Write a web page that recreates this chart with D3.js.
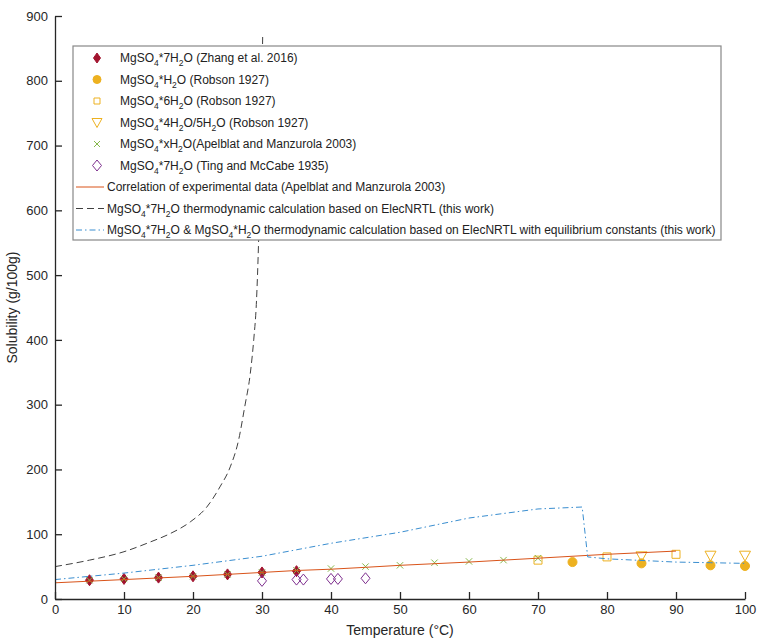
<!DOCTYPE html>
<html>
<head>
<meta charset="utf-8">
<script src="https://cdn.jsdelivr.net/npm/d3@7"></script>
<style>
  body { margin: 0; background: #fff; }
  svg { font-family: "Liberation Sans", Arial, sans-serif; }
</style>
</head>
<body>
<script>
// data
var zhangT = [5, 10, 15, 20, 25, 30, 35];
var zhangS = [29, 31, 33, 35, 38, 41, 43];

var robsonH2oT = [75, 85, 95, 100];
var robsonH2oS = [57, 55, 52, 51];

var robson6T = [70, 80, 90];
var robson6S = [60, 65, 69];

var robson45T = [85, 95, 100];
var robson45S = [66, 67, 67];

var apelT = [5, 10, 15, 20, 25, 30, 35, 40, 45, 50, 55, 60, 65, 70];
var apelS = [29, 31, 33, 35, 38, 41, 44, 47, 50, 52, 56, 58, 60, 63];

var tingT = [30, 35, 36, 40, 41, 45];
var tingS = [28, 30, 30, 31, 31, 32];

var corrT = [0, 10, 20, 30, 35, 40, 50, 60, 70, 80, 90];
var corrS = [25, 30, 35, 41, 44, 46, 52, 57, 63, 69, 74];

var elecT = [0, 5, 10, 13.8, 16.7, 19.6, 22, 23.9, 25.4, 26.6, 27.5, 28.3, 28.8, 29.2, 29.5, 29.8, 30.1];
var elecS = [50, 60, 73, 88, 101, 119, 142, 173, 204, 245, 297, 348, 400, 460, 550, 680, 870];

var eqT = [0, 10, 20, 30, 35, 40, 50, 60, 70, 76.4, 77.2, 80, 90, 95, 100];
var eqS = [30, 40, 52, 66, 76, 86, 103, 125, 139, 142, 65, 62, 57, 56, 55];

var xTicks = [0, 10, 20, 30, 40, 50, 60, 70, 80, 90, 100];
var yTicks = [0, 100, 200, 300, 400, 500, 600, 700, 800, 900];

var legendLabels = [
  "MgSO_4*7H_2O (Zhang et al. 2016)",
  "MgSO_4*H_2O (Robson 1927)",
  "MgSO_4*6H_2O (Robson 1927)",
  "MgSO_4*4H_2O/5H_2O (Robson 1927)",
  "MgSO_4*xH_2O(Apelblat and Manzurola 2003)",
  "MgSO_4*7H_2O (Ting and McCabe 1935)",
  "Correlation of experimental data (Apelblat and Manzurola 2003)",
  "MgSO_4*7H_2O thermodynamic calculation based on ElecNRTL (this work)",
  "MgSO_4*7H_2O & MgSO_4*H_2O thermodynamic calculation based on ElecNRTL with equilibrium constants (this work)"
];

var W = 757, H = 638;
var margin = {left: 55, right: 12, top: 16, bottom: 39};
var width = W - margin.left - margin.right,
    height = H - margin.top - margin.bottom;

var svg = d3.select("body").append("svg")
    .attr("width", W)
    .attr("height", H);

var g = svg.append("g")
    .attr("transform", "translate(" + margin.left + "," + margin.top + ")");

var xScale = d3.scaleLinear().domain([0, 100]).range([0, width]);
var yScale = d3.scaleLinear().domain([0, 900]).range([height, 0]);

var zip = function(a, b) { return a.map(function(v, i) { return [v, b[i]]; }); };

// marker shapes (offsets only, positions come from scales)
function diamond(w, h) {
  return "M0," + (-h / 2) + "L" + (w / 2) + ",0L0," + (h / 2) + "L" + (-w / 2) + ",0Z";
}
function triDown(s) {
  return "M" + (-s / 2) + "," + (-s * 0.4) + "L" + (s / 2) + "," + (-s * 0.4) + "L0," + (s * 0.5) + "Z";
}
function cross(s) {
  return "M" + (-s) + "," + (-s) + "L" + s + "," + s + "M" + (-s) + "," + s + "L" + s + "," + (-s);
}

var markerDefs = [
  {d: diamond(8, 11), fill: "#A2142F", stroke: "#A2142F", sw: 1},
  {circle: 4.5, fill: "#EDB120", stroke: "#EDB120", sw: 1},
  {d: "M-4,-4H4V4H-4Z", fill: "none", stroke: "#EDB120", sw: 1},
  {d: triDown(11), fill: "none", stroke: "#EDB120", sw: 1},
  {d: cross(3.2), fill: "none", stroke: "#86b84a", sw: 1},
  {d: diamond(9, 11), fill: "none", stroke: "#7E2F8E", sw: 1}
];
var legendMarkerDefs = [
  {d: diamond(7, 10), fill: "#A2142F", stroke: "#A2142F", sw: 1},
  {circle: 4, fill: "#EDB120", stroke: "#EDB120", sw: 1},
  {d: "M-3,-3H3V3H-3Z", fill: "none", stroke: "#EDB120", sw: 1},
  {d: triDown(10), fill: "none", stroke: "#EDB120", sw: 1},
  {d: cross(3), fill: "none", stroke: "#86b84a", sw: 1},
  {d: diamond(9, 11), fill: "none", stroke: "#7E2F8E", sw: 1}
];

function drawMarker(sel, m) {
  if (m.circle) {
    sel.append("circle").attr("r", m.circle)
      .attr("fill", m.fill).attr("stroke", m.stroke).attr("stroke-width", m.sw);
  } else {
    sel.append("path").attr("d", m.d)
      .attr("fill", m.fill).attr("stroke", m.stroke).attr("stroke-width", m.sw);
  }
}

var series = [
  zip(zhangT, zhangS),
  zip(robsonH2oT, robsonH2oS),
  zip(robson6T, robson6S),
  zip(robson45T, robson45S),
  zip(apelT, apelS),
  zip(tingT, tingS)
];

series.forEach(function(pts, i) {
  g.selectAll(".m" + i)
    .data(pts)
    .enter().append("g")
    .attr("class", "m" + i)
    .attr("transform", function(d) { return "translate(" + xScale(d[0]) + "," + yScale(d[1]) + ")"; })
    .each(function() { drawMarker(d3.select(this), markerDefs[i]); });
});

var line = d3.line()
    .x(function(d) { return xScale(d[0]); })
    .y(function(d) { return yScale(d[1]); });
var curve = d3.line()
    .curve(d3.curveMonotoneX)
    .x(function(d) { return xScale(d[0]); })
    .y(function(d) { return yScale(d[1]); });

var lineDefs = [
  {pts: zip(corrT, corrS), color: "#D95319", dash: null, gen: curve},
  {pts: zip(elecT, elecS), color: "#404040", dash: "7,4", gen: curve},
  {pts: zip(eqT, eqS), color: "#3a8ed0", dash: "6,3,1.5,3", gen: line}
];

lineDefs.forEach(function(l) {
  g.append("path")
    .attr("d", l.gen(l.pts))
    .attr("fill", "none")
    .attr("stroke", l.color)
    .attr("stroke-width", 1)
    .attr("stroke-dasharray", l.dash);
});

// axes
var axisColor = "#262626";
var xAxis = d3.axisBottom(xScale).tickValues(xTicks).tickSizeInner(-7).tickSizeOuter(0).tickPadding(6);
var yAxis = d3.axisLeft(yScale).tickValues(yTicks).tickSizeInner(-7).tickSizeOuter(0).tickPadding(7);

var gX = g.append("g")
    .attr("transform", "translate(0," + height + ")")
    .call(xAxis);
var gY = g.append("g").call(yAxis);

[gX, gY].forEach(function(ax) {
  ax.select(".domain").attr("stroke", axisColor).attr("stroke-width", 1.3);
  ax.selectAll(".tick line").attr("stroke", axisColor).attr("stroke-width", 1.3);
  ax.selectAll(".tick text").attr("fill", axisColor).style("font-size", "13px")
    .style("font-family", "'Liberation Sans', Arial, sans-serif");
});

g.append("text")
    .attr("x", width / 2)
    .attr("y", height + 36)
    .style("text-anchor", "middle")
    .style("font-size", "14px")
    .attr("fill", axisColor)
    .text("Temperature (°C)");

g.append("text")
    .attr("transform", "rotate(-90)")
    .attr("x", -height / 2)
    .attr("y", -38)
    .style("text-anchor", "middle")
    .style("font-size", "14px")
    .attr("fill", axisColor)
    .text("Solubility (g/100g)");

// legend
var lg = svg.append("g").attr("transform", "translate(73,46)");
lg.append("rect")
    .attr("width", 648)
    .attr("height", 194)
    .attr("fill", "#fff")
    .attr("stroke", "#888")
    .attr("stroke-width", 1.2);

// "_4" -> subscript 4
function richText(sel, str) {
  var parts = str.split(/_(\d)/);
  var shift = 0;
  parts.forEach(function(p, k) {
    if (!p) return;
    if (k % 2 === 1) {
      sel.append("tspan").attr("dy", 4 - shift).style("font-size", "8.5px").text(p);
      shift = 4;
    } else {
      sel.append("tspan").attr("dy", -shift).text(p);
      shift = 0;
    }
  });
}

legendLabels.forEach(function(lab, i) {
  var y = 12 + i * 21.5;
  var row = lg.append("g").attr("transform", "translate(0," + y + ")");
  var tx = 47;
  if (i < 6) {
    var mg = row.append("g").attr("transform", "translate(24,0)");
    drawMarker(mg, legendMarkerDefs[i]);
  } else {
    var l = lineDefs[i - 6];
    row.append("line")
      .attr("x1", 3).attr("x2", 31).attr("y1", 0).attr("y2", 0)
      .attr("stroke", l.color)
      .attr("stroke-width", 1)
      .attr("stroke-dasharray", l.dash);
    tx = 34;
  }
  var t = row.append("text")
    .attr("x", tx)
    .attr("y", 4)
    .style("font-size", "12px")
    .attr("fill", "#222");
  richText(t, lab);
});
</script>
</body>
</html>
